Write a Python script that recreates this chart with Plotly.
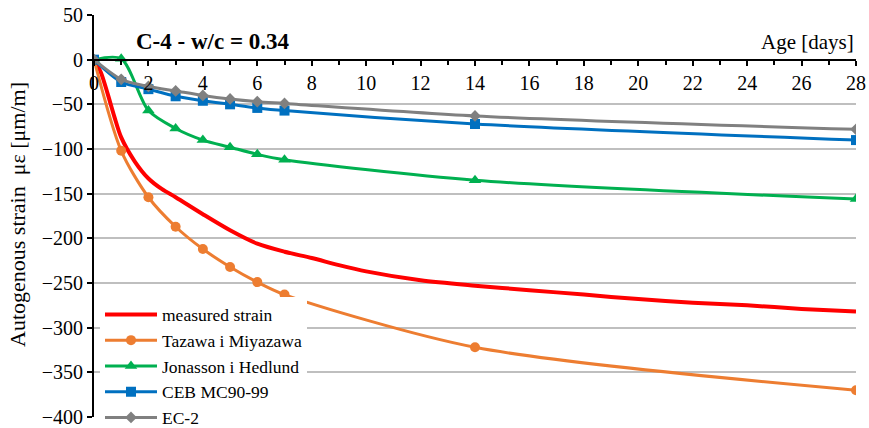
import plotly.graph_objects as go

# ---- data ----
days_model = [0, 1, 2, 3, 4, 5, 6, 7, 14, 28]
tazawa = [0, -102, -154, -187, -212, -232, -249, -263, -322, -370]
jonasson = [0, 1, -57, -77, -90, -98, -106, -112, -135, -156]
ceb = [0, -25, -33, -41, -46, -50, -54, -57, -72, -90]
ec2 = [0, -22, -30, -35, -40, -44, -47, -49, -63, -78]

days_meas = [0, 0.25, 0.5, 0.75, 1, 1.5, 2, 2.5, 3, 4, 5, 6, 7, 8, 9, 10, 12, 14, 16, 18, 20, 22, 24, 26, 28]
measured = [0, -14, -38, -64, -87, -114, -133, -145, -154, -173, -191, -206, -215, -222, -230, -237, -247, -253, -258, -263, -268, -272, -275, -279, -282]

names = ["measured strain", "Tazawa i Miyazawa", "Jonasson i Hedlund", "CEB MC90-99", "EC-2"]
colors = ["#FF0000", "#ED7D31", "#00B050", "#0070C0", "#808080"]

FONT = "Liberation Serif"

fig = go.Figure()
fig.add_trace(go.Scatter(x=days_meas, y=measured, name=names[0], mode="lines",
                         line=dict(color=colors[0], width=4, shape="spline", smoothing=0.8)))
fig.add_trace(go.Scatter(x=days_model, y=tazawa, name=names[1], mode="lines+markers",
                         line=dict(color=colors[1], width=3, shape="spline", smoothing=0.8),
                         marker=dict(symbol="circle", size=10, color=colors[1])))
fig.add_trace(go.Scatter(x=days_model, y=jonasson, name=names[2], mode="lines+markers",
                         line=dict(color=colors[2], width=3, shape="spline", smoothing=0.8),
                         marker=dict(symbol="triangle-up", size=11, color=colors[2])))
fig.add_trace(go.Scatter(x=days_model, y=ceb, name=names[3], mode="lines+markers",
                         line=dict(color=colors[3], width=3, shape="spline", smoothing=0.8),
                         marker=dict(symbol="square", size=10, color=colors[3])))
fig.add_trace(go.Scatter(x=days_model, y=ec2, name=names[4], mode="lines+markers",
                         line=dict(color=colors[4], width=3, shape="spline", smoothing=0.8),
                         marker=dict(symbol="diamond", size=9, color=colors[4])))

fig.update_layout(
    width=869, height=428,
    margin=dict(l=94, r=13, t=15, b=11, autoexpand=False),
    paper_bgcolor="white", plot_bgcolor="white",
    font=dict(family=FONT, size=20, color="black"),
    showlegend=True,
    legend=dict(x=(100 - 94) / 762, y=(417 - 366) / 402, xanchor="left", yanchor="middle",
                bgcolor="white", font=dict(family=FONT, size=17.5, color="black"),
                borderwidth=0, tracegroupgap=0, itemwidth=52),
    xaxis=dict(range=[0, 28], dtick=2, tick0=0, showgrid=False, zeroline=False,
               anchor="free", position=400 / 450, showline=True, linecolor="black", linewidth=2,
               ticks="outside", ticklen=5, tickwidth=1.5, tickcolor="black",
               minor=dict(dtick=1, ticks="outside", ticklen=4, tickcolor="black", tickwidth=1.5),
               tickfont=dict(family=FONT, size=20)),
    yaxis=dict(range=[-400, 50], dtick=50, tick0=0, showgrid=True, gridcolor="#BFBFBF", gridwidth=1.5,
               zeroline=False, showline=True, linecolor="black", linewidth=2,
               ticks="outside", ticklen=5, tickwidth=1.5, tickcolor="black",
               tickfont=dict(family=FONT, size=20)),
    annotations=[
        dict(text="<b>C-4 - w/c = 0.34</b>", xref="paper", yref="paper", x=(134 - 94) / 762,
             y=(417 - 42) / 402, xanchor="left", yanchor="middle", showarrow=False,
             font=dict(family=FONT, size=23)),
        dict(text="Age [days]", xref="paper", yref="paper", x=1.0, y=(417 - 42) / 402,
             xanchor="right", yanchor="middle", showarrow=False, font=dict(family=FONT, size=21)),
        dict(text="Autogenous strain  με [μm/m]", xref="paper", yref="paper", x=(18 - 94) / 762,
             y=(417 - 215) / 402, xanchor="center", yanchor="middle", textangle=-90,
             showarrow=False, font=dict(family=FONT, size=22)),
    ],
)

fig.write_html("out.html")
